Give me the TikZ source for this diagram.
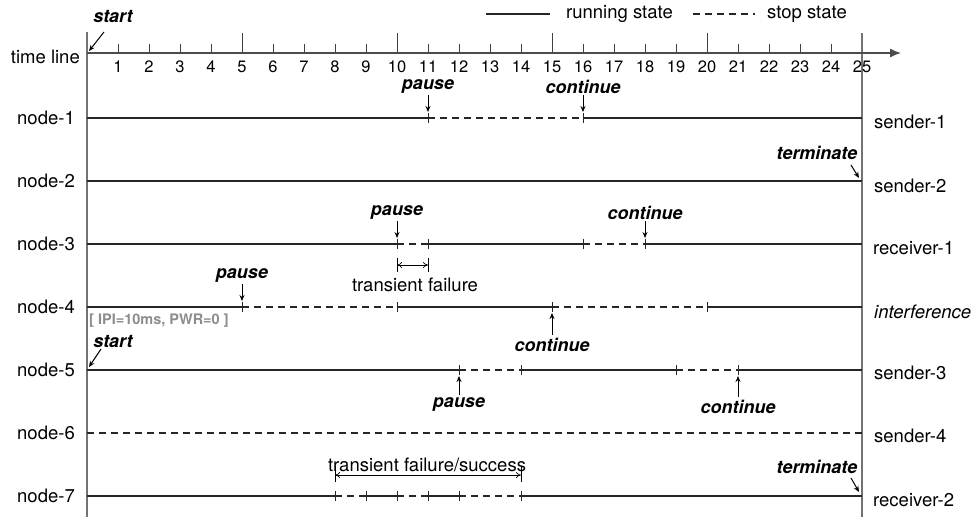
\documentclass[tikz,border=0pt]{standalone}
\usepackage{fontspec}
\setmainfont{TeX Gyre Heros}
\usetikzlibrary{arrows.meta}

\begin{document}
\begin{tikzpicture}[x=1pt,y=-1pt,
  run/.style={line width=1.6pt, draw=black!85},
  stop/.style={run, dash pattern=on 7pt off 5pt},
  tickm/.style={line width=1pt, draw=black!85},
  axis/.style={line width=1.4pt, draw=black!55},
  tlaxis/.style={line width=1.3pt, draw=black!70},
  evt/.style={font=\fontsize{18}{20}\selectfont\bfseries\itshape, inner sep=0pt},
  lbl/.style={font=\fontsize{18.5}{20}\selectfont, inner sep=0pt},
  num/.style={font=\fontsize{16.5}{18}\selectfont, inner sep=0pt},
  ptr/.style={-{Stealth[length=6pt,width=5pt]}, line width=1pt},
  dim/.style={{To[length=5pt,width=6pt]}-{To[length=5pt,width=6pt]}, line width=0.7pt},
  dimbar/.style={line width=0.8pt}]
\useasboundingbox (0,0) rectangle (977,517);

% grid of named points: rows r1..r7 and the time line tl, at times 0..25
\foreach \r/\yy in {1/118,2/181,3/244,4/307,5/370,6/433,7/496}
  \foreach \t in {0,...,25}
    \coordinate (r\r-\t) at ({87+31*\t},\yy);
\foreach \t in {0,...,25}
  \coordinate (tl-\t) at ({87+31*\t},53);

% frame of the chart
\coordinate (ltop) at (87,32);
\coordinate (lbot) at (87,517);
\coordinate (rtop) at (862,33);
\coordinate (rbot) at (862,517);
\coordinate (tlend) at (901,53);
\draw[axis] (ltop) -- (lbot);
\draw[axis] (rtop) -- (rbot);
\draw[tlaxis, -{Latex[length=11pt,width=9pt]}] (tl-0) -- (tlend);

% time line ticks and numbers
\foreach \t in {1,2,3,4,6,7,8,9,11,12,13,14,16,17,18,19,21,22,23,24}
  \draw[line width=1pt, black!75] (tl-\t) -- ++(0,-9);
\foreach \t in {5,10,15,20}
  \draw[line width=1pt, black!75] (tl-\t) -- ++(0,-20);
\foreach \t in {1,...,25}
  \node[num] (n\t) at ({87+31*\t},67) {\t};

% legend
\coordinate (lga) at (486,14);
\coordinate (lgb) at (550,14);
\coordinate (lgc) at (693,14);
\coordinate (lgd) at (755,14);
\draw[run] (lga) -- (lgb);
\node[lbl, anchor=west] (lgrun) at (566,14) {running state};
\draw[stop] (lgc) -- (lgd);
\node[lbl, anchor=west] (lgstop) at (767,14) {stop state};

% row labels
\node[lbl, anchor=east] (tlname) at (80,57) {time line};
\foreach \r in {1,...,7}
  \node[lbl, anchor=east] (left\r) at ([xshift=-12pt]r\r-0) {node-\r};
\node[lbl, anchor=west] (right1) at ([xshift=12pt,yshift=-4pt]r1-25) {sender-1};
\node[lbl, anchor=west] (right2) at ([xshift=12pt,yshift=-5pt]r2-25) {sender-2};
\node[lbl, anchor=west] (right3) at ([xshift=11pt,yshift=-4pt]r3-25) {receiver-1};
\node[lbl, anchor=west, font=\fontsize{18.5}{20}\selectfont\itshape] (right4) at ([xshift=12pt,yshift=-5pt]r4-25) {interference};
\node[lbl, anchor=west] (right5) at ([xshift=12pt,yshift=-3pt]r5-25) {sender-3};
\node[lbl, anchor=west] (right6) at ([xshift=12pt,yshift=-3pt]r6-25) {sender-4};
\node[lbl, anchor=west] (right7) at ([xshift=11pt,yshift=-4pt]r7-25) {receiver-2};

% node-1
\draw[run] (r1-0) -- (r1-11);
\draw[stop] (r1-11) -- (r1-16);
\draw[run] (r1-16) -- (r1-25);
\foreach \t in {11,16} \draw[tickm] ([yshift=-5pt]r1-\t) -- ([yshift=5pt]r1-\t);

% node-2
\draw[run] (r2-0) -- (r2-25);

% node-3
\draw[run] (r3-0) -- (r3-10);
\draw[stop] (r3-10) -- (r3-11);
\draw[run] (r3-11) -- (r3-16);
\draw[stop] (r3-16) -- (r3-18);
\draw[run] (r3-18) -- (r3-25);
\foreach \t in {10,11,16,18} \draw[tickm] ([yshift=-5pt]r3-\t) -- ([yshift=5pt]r3-\t);

% node-4
\draw[run] (r4-0) -- (r4-5);
\draw[stop] (r4-5) -- (r4-10);
\draw[run] (r4-10) -- (r4-15);
\draw[stop] (r4-15) -- (r4-20);
\draw[run] (r4-20) -- (r4-25);
\foreach \t in {5,10,15,20} \draw[tickm] ([yshift=-5pt]r4-\t) -- ([yshift=5pt]r4-\t);

% node-5
\draw[run] (r5-0) -- (r5-12);
\draw[stop] (r5-12) -- (r5-14);
\draw[run] (r5-14) -- (r5-19);
\draw[stop] (r5-19) -- (r5-21);
\draw[run] (r5-21) -- (r5-25);
\foreach \t in {12,14,19,21} \draw[tickm] ([yshift=-5pt]r5-\t) -- ([yshift=5pt]r5-\t);

% node-6
\draw[stop] (r6-0) -- (r6-25);

% node-7
\draw[run] (r7-0) -- (r7-8);
\draw[stop] (r7-8) -- (r7-9);
\draw[run] (r7-9) -- (r7-10);
\draw[stop] (r7-10) -- (r7-11);
\draw[run] (r7-11) -- (r7-12);
\draw[stop] (r7-12) -- (r7-14);
\draw[run] (r7-14) -- (r7-25);
\foreach \t in {8,9,10,11,12,14} \draw[tickm] ([yshift=-5pt]r7-\t) -- ([yshift=5pt]r7-\t);

% events above a row
\foreach \r/\t/\txt/\nm in {1/11/pause/ea, 1/16/continue/eb, 3/10/pause/ec, 3/18/continue/ed, 4/5/pause/ee} {
  \node[evt] (\nm) at ([yshift=31.5pt]r\r-\t) {\txt};
  \draw[ptr] ([yshift=23pt]r\r-\t) -- ([yshift=6pt]r\r-\t);
}
% events below a row
\foreach \r/\t/\txt/\nm/\dy in {4/15/continue/ef/38, 5/12/pause/eg/35, 5/21/continue/eh/37} {
  \node[evt] (\nm) at ([yshift=-\dy pt]r\r-\t) {\txt};
  \draw[ptr] ([yshift=-\dy pt+10pt]r\r-\t) -- ([yshift=-6pt]r\r-\t);
}

% start and terminate
\node[evt] (st1) at (113,17) {start};
\coordinate (st1a) at (104,32);
\draw[ptr] (st1a) -- ([xshift=2pt,yshift=2pt]tl-0);
\node[evt] (st5) at (113,342) {start};
\coordinate (st5a) at (101,349);
\draw[ptr] (st5a) -- ([xshift=2pt,yshift=3pt]r5-0);
\node[evt] (tm2) at (817,153) {terminate};
\coordinate (tm2a) at (851,165);
\draw[ptr] (tm2a) -- ([xshift=-3pt,yshift=3pt]r2-25);
\node[evt] (tm7) at (817,467) {terminate};
\coordinate (tm7a) at (851,478);
\draw[ptr] (tm7a) -- ([xshift=-3pt,yshift=4pt]r7-25);

% interference settings
\node[anchor=west, inner sep=0pt, text=black!45, font=\fontsize{14.5}{16}\selectfont\bfseries] (ipi) at (89,321) {[ IPI=10ms, PWR=0 ]};

% transient failure spans
\draw[dimbar] ([yshift=-14pt]r3-10) -- ([yshift=-28pt]r3-10);
\draw[dimbar] ([yshift=-14pt]r3-11) -- ([yshift=-28pt]r3-11);
\draw[dim] ([yshift=-21pt]r3-10) -- ([yshift=-21pt]r3-11);
\node[lbl] (tf3) at (415,285) {transient failure};

\draw[dimbar] ([yshift=14pt]r7-8) -- ([yshift=30pt]r7-8);
\draw[dimbar] ([yshift=14pt]r7-14) -- ([yshift=30pt]r7-14);
\draw[dim] ([yshift=21pt]r7-8) -- ([yshift=21pt]r7-14);
\node[lbl] (tf7) at (427,465) {transient failure/success};
\end{tikzpicture}
\end{document}
